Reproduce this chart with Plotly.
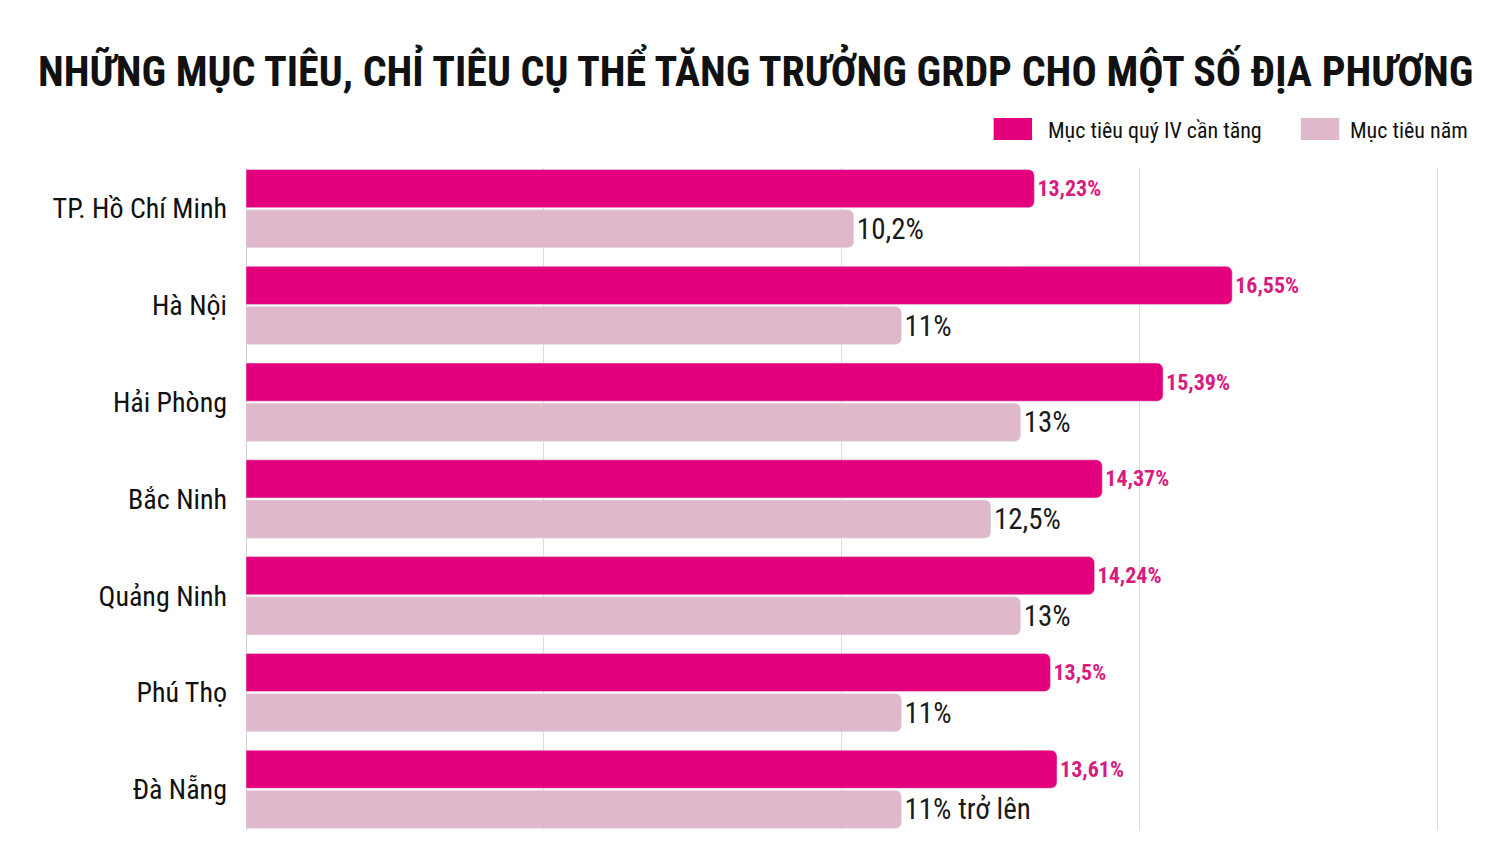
import plotly.graph_objects as go

categories = ["TP. Hồ Chí Minh", "Hà Nội", "Hải Phòng", "Bắc Ninh", "Quảng Ninh", "Phú Thọ", "Đà Nẵng"]
q4_target = [13.23, 16.55, 15.39, 14.37, 14.24, 13.5, 13.61]
q4_labels = ["13,23%", "16,55%", "15,39%", "14,37%", "14,24%", "13,5%", "13,61%"]
year_target = [10.2, 11, 13, 12.5, 13, 11, 11]
year_labels = ["10,2%", "11%", "13%", "12,5%", "13%", "11%", "11% trở lên"]
series_names = ["Mục tiêu quý IV cần tăng", "Mục tiêu năm"]
title_text = "NHỮNG MỤC TIÊU, CHỈ TIÊU CỤ THỂ TĂNG TRƯỞNG GRDP CHO MỘT SỐ ĐỊA PHƯƠNG"

DARK = "#E4007C"
PALE = "#DFB8CB"
COND = "Roboto Condensed, DejaVu Sans Condensed, sans-serif"

fig = go.Figure()
fig.add_trace(go.Bar(
    y=categories, x=q4_target, orientation="h", name=series_names[0],
    marker=dict(color=DARK, cornerradius=6),
    text=q4_labels, textposition="outside", cliponaxis=False, constraintext="none",
    textfont=dict(family=COND, size=22, color="#D81B7F", weight="bold"),
    showlegend=False,
))
fig.add_trace(go.Bar(
    y=categories, x=year_target, orientation="h", name=series_names[1],
    marker=dict(color=PALE, cornerradius=6),
    text=year_labels, textposition="outside", cliponaxis=False, constraintext="none",
    textfont=dict(family=COND, size=29, color="#1a1a1a"),
    showlegend=False,
))

# custom legend (paper coords relative to plot area)
legend_items = [(series_names[0], DARK, 0.6267, 0.6703), (series_names[1], PALE, 0.8842, 0.9237)]
for name, col, x0, xt in legend_items:
    fig.add_shape(type="rect", xref="paper", yref="paper", x0=x0, x1=x0 + 0.0322,
                  y0=1.0423, y1=1.0755, fillcolor=col, line=dict(width=0))
    fig.add_annotation(xref="paper", yref="paper", x=xt, y=1.0574, text=name,
                       showarrow=False, xanchor="left", yanchor="middle",
                       font=dict(family=COND, size=22, color="#111"))

fig.add_annotation(xref="paper", yref="paper", x=0.427, xanchor="center",
                   y=1.148, yanchor="middle",
                   text="<b>" + title_text + "</b>",
                   showarrow=False, font=dict(family=COND, size=42, color="#111", weight="bold"))

fig.update_layout(
    width=1500, height=862,
    margin=dict(l=246, r=61, t=168, b=32),
    paper_bgcolor="white", plot_bgcolor="white",
    barmode="group", bargap=0.17, bargroupgap=0.05,
)
fig.update_xaxes(range=[0, 20.02], dtick=5, showgrid=True, gridcolor="#dcdcdc", gridwidth=1,
                 showticklabels=False, zeroline=True, zerolinecolor="#cfcfcf", zerolinewidth=1,
                 fixedrange=True)
fig.update_yaxes(range=[6.42, -0.42], showgrid=False, ticks="", ticklabelstandoff=18,
                 tickfont=dict(family=COND, size=28, color="#111"), fixedrange=True)

fig.write_html("out.html")
